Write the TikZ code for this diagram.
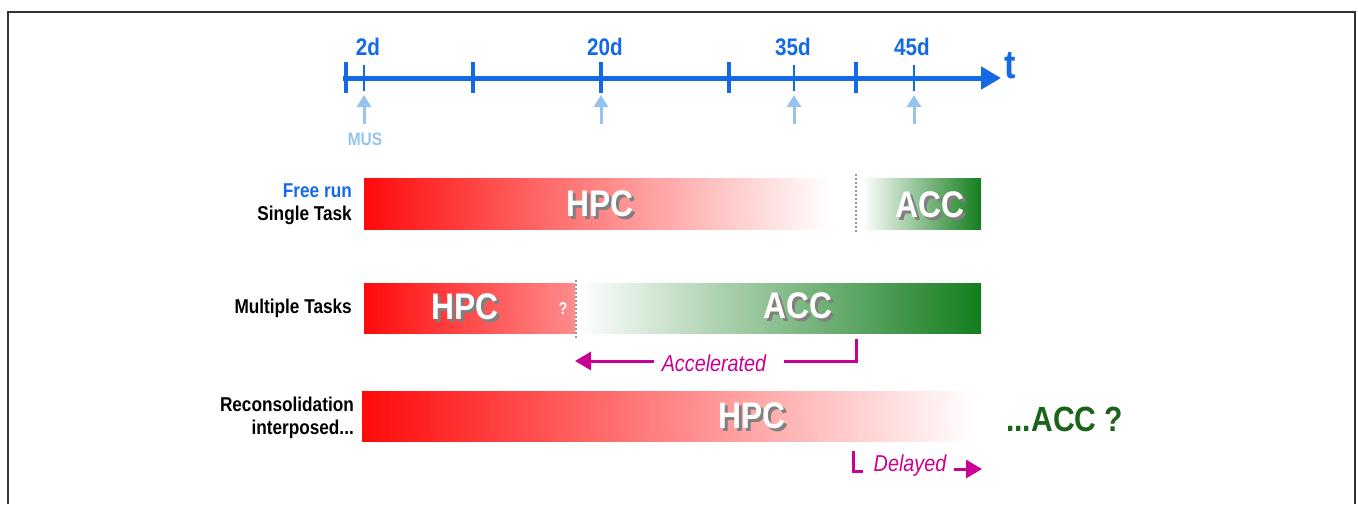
\documentclass[tikz,border=0pt]{standalone}
\usepackage{fontspec}
\setmainfont{Liberation Sans}
\newfontfamily\nar[FakeStretch=0.86]{Liberation Sans}
\usetikzlibrary{arrows.meta}
\definecolor{tblue}{RGB}{20,105,230}
\definecolor{lblue}{RGB}{150,195,240}
\definecolor{hred}{RGB}{255,10,10}
\definecolor{agreen}{RGB}{20,125,30}
\definecolor{mag}{RGB}{200,0,150}
\definecolor{dgreen}{RGB}{25,100,25}
\newcommand\sdw[1]{\rlap{\kern3pt\raisebox{-3pt}{\color{black!50}#1}}#1}
\begin{document}
\begin{tikzpicture}[x=1pt,y=-1pt,
  daylbl/.style={text=tblue, font=\nar\bfseries\fontsize{24}{26}\selectfont, inner sep=0},
  bigtick/.style={tblue, line width=4.5},
  smalltick/.style={tblue, line width=1.5},
  uparrow/.style={lblue, line width=3, -{Triangle[length=12,width=14]}},
  rowlbl/.style={font=\nar\bfseries\fontsize{20}{22}\selectfont, inner sep=0, anchor=east, align=right},
  bartext/.style={text=white, font=\nar\bfseries\fontsize{37}{39}\selectfont, inner sep=0},
  divider/.style={black!40, line width=2, dash pattern=on 2 off 2},
  magline/.style={mag, line width=3},
  magarrow/.style={mag, line width=3, -{Triangle[length=16,width=18]}},
  magtext/.style={text=mag, font=\nar\itshape\fontsize{23}{25}\selectfont, inner sep=0}
]
\useasboundingbox (0,0) rectangle (1358,504);
\fill[white] (0,0) rectangle (1358,504);
\draw[black!80, line width=1.5] (8,504) -- (8,12) -- (1355,12) -- (1355,504);

% timeline
\coordinate (tl0) at (343,78);
\coordinate (tl1) at (1001,78);
\draw[tblue, line width=5, -{Triangle[length=20,width=22]}] (tl0) -- (tl1);
\foreach \x in {346,473,601,729,856} \draw[bigtick] (\x,62) -- (\x,93);
\foreach \x in {364,794,914} \draw[smalltick] (\x,65) -- (\x,91);
\node[daylbl] (d2) at (368,47) {2d};
\node[daylbl] (d20) at (605,47) {20d};
\node[daylbl] (d35) at (793,47) {35d};
\node[daylbl] (d45) at (912,47) {45d};
\node[text=tblue, font=\nar\bfseries\fontsize{40}{42}\selectfont, inner sep=0] (t) at (1010,66) {t};

% MUS arrows
\node[text=lblue, font=\nar\bfseries\fontsize{18}{20}\selectfont, inner sep=0] (mus) at (365,139) {MUS};
\coordinate (m1) at (364,124); \coordinate (m1t) at (364,95);
\coordinate (m2) at (601,124); \coordinate (m2t) at (601,95);
\coordinate (m3) at (794,124); \coordinate (m3t) at (794,95);
\coordinate (m4) at (914,124); \coordinate (m4t) at (914,95);
\draw[uparrow] (m1) -- (m1t);
\draw[uparrow] (m2) -- (m2t);
\draw[uparrow] (m3) -- (m3t);
\draw[uparrow] (m4) -- (m4t);

% row 1
\shade[left color=hred, right color=white] (364,178) rectangle (830,229);
\fill[white] (830,178) rectangle (862,229);
\shade[left color=white, right color=agreen] (862,178) rectangle (981,229);
\draw[divider] (856,174) -- (856,234);
\node[bartext] (hpc1) at (600,205) {\sdw{HPC}};
\node[bartext] (acc1) at (930,206) {\sdw{ACC}};
\node[rowlbl, text=tblue] (fr) at (352,191) {Free run};
\node[rowlbl] (st) at (352,215) {Single Task};

% row 2
\shade[left color=hred, right color={rgb,255:red,255;green,140;blue,140}] (364,283) rectangle (575,333);
\shade[left color=white, right color=agreen] (578,283) rectangle (981,333);
\draw[divider] (576,280) -- (576,338);
\node[bartext] (hpc2) at (465,308) {\sdw{HPC}};
\node[text=white, font=\nar\bfseries\fontsize{17}{19}\selectfont, inner sep=0] (q2) at (563,309) {?};
\node[bartext] (acc2) at (798,307) {\sdw{ACC}};
\node[rowlbl] (mt) at (352,308) {Multiple Tasks};

% accelerated
\node[magtext] (accel) at (714,363) {Accelerated};
\coordinate (ac0) at (856,339);
\coordinate (ac1) at (856,361);
\coordinate (ac2) at (575,361);
\draw[magline] (ac0) -- (ac1) -- ([xshift=18pt]accel.east |- ac1);
\draw[magarrow] ([xshift=-8pt]accel.west |- ac2) -- (ac2);

% row 3
\shade[left color=hred, right color=white] (362,391) rectangle (975,441);
\node[bartext] (hpc3) at (752,417) {\sdw{HPC}};
\node[rowlbl] (rc) at (354,404) {Reconsolidation};
\node[rowlbl] (ip) at (354,429) {interposed...};
\node[text=dgreen, font=\nar\bfseries\fontsize{35}{37}\selectfont, inner sep=0, anchor=west] (accq) at (1006,419) {...ACC ?};

% delayed
\coordinate (dl0) at (853,451);
\coordinate (dl1) at (853,471);
\coordinate (dl2) at (863,471);
\draw[magline] (dl0) -- (dl1) -- (dl2);
\node[magtext] (delay) at (910,466) {Delayed};
\coordinate (dl3) at (982,469);
\draw[magarrow] ([xshift=8pt]delay.east |- dl3) -- (dl3);
\end{tikzpicture}
\end{document}
